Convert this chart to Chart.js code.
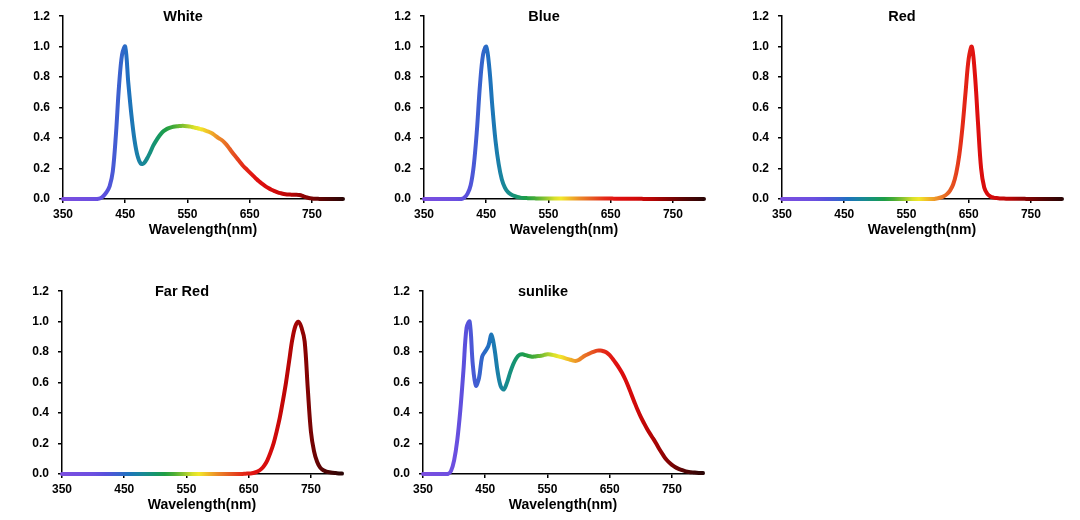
<!DOCTYPE html>
<html>
<head>
<meta charset="utf-8">
<script src="https://cdn.jsdelivr.net/npm/chart.js@4.4.1/dist/chart.umd.min.js"></script>
<style>
  html, body { margin: 0; padding: 0; background: #fff; }
  body { width: 1080px; height: 520px; position: relative; overflow: hidden; }
  canvas { position: absolute; }
</style>
</head>
<body>
<canvas id="white" width="338" height="249" style="left:13px;top:0px"></canvas>
<canvas id="blue" width="338" height="249" style="left:374px;top:0px"></canvas>
<canvas id="red" width="338" height="249" style="left:732px;top:0px"></canvas>
<canvas id="farred" width="338" height="249" style="left:12px;top:275px"></canvas>
<canvas id="sunlike" width="338" height="249" style="left:373px;top:275px"></canvas>
<script>
// wavelength grid (nm) and tick labels
const wavelengths = [
  350, 355, 360, 365, 370, 375, 380, 385, 390, 395,
  400, 405, 410, 415, 420, 425, 430, 435, 440, 445,
  450, 455, 460, 465, 470, 475, 480, 485, 490, 495,
  500, 505, 510, 515, 520, 525, 530, 535, 540, 545,
  550, 555, 560, 565, 570, 575, 580, 585, 590, 595,
  600, 605, 610, 615, 620, 625, 630, 635, 640, 645,
  650, 655, 660, 665, 670, 675, 680, 685, 690, 695,
  700, 705, 710, 715, 720, 725, 730, 735, 740, 745,
  750, 755, 760, 765, 770, 775, 780, 785, 790, 795,
  800,
];
const xTicks = [350, 450, 550, 650, 750];
const yTicks = [0, 0.2, 0.4, 0.6, 0.8, 1.0, 1.2];

// relative intensity, one value per wavelength
const whiteSpectrum = [
  0, 0, 0, 0, 0, 0, 0, 0, 0, 0,
  0, 0, 0.005, 0.02, 0.045, 0.085, 0.18, 0.42, 0.74, 0.95,
  1.0, 0.76, 0.55, 0.385, 0.28, 0.232, 0.235, 0.265, 0.305, 0.35,
  0.385, 0.415, 0.44, 0.455, 0.465, 0.472, 0.476, 0.478, 0.48, 0.48,
  0.478, 0.475, 0.47, 0.466, 0.46, 0.455, 0.447, 0.44, 0.43, 0.415,
  0.4, 0.387, 0.368, 0.345, 0.317, 0.29, 0.265, 0.24, 0.215, 0.195,
  0.175, 0.155, 0.135, 0.116, 0.1, 0.085, 0.072, 0.061, 0.052, 0.044,
  0.038, 0.033, 0.03, 0.029, 0.028, 0.028, 0.026, 0.02, 0.012, 0.007,
  0.004, 0.002, 0.001, 0, 0, 0, 0, 0, 0, 0,
  0,
];
const blueSpectrum = [
  0, 0, 0, 0, 0, 0, 0, 0, 0, 0,
  0, 0, 0, 0.01, 0.035, 0.09, 0.22, 0.45, 0.75, 0.95,
  1.0, 0.86, 0.6, 0.38, 0.23, 0.13, 0.075, 0.045, 0.03, 0.02,
  0.013, 0.009, 0.007, 0.006, 0.005, 0.005, 0.004, 0.004, 0.004, 0.004,
  0.004, 0.004, 0.004, 0.004, 0.004, 0.004, 0.004, 0.004, 0.004, 0.004,
  0.004, 0.004, 0.004, 0.004, 0.004, 0.003, 0.003, 0.003, 0.003, 0.003,
  0.003, 0.002, 0.002, 0.002, 0.002, 0.001, 0.001, 0.001, 0.001, 0.001,
  0.001, 0, 0, 0, 0, 0, 0, 0, 0, 0,
  0, 0, 0, 0, 0, 0, 0, 0, 0, 0,
  0,
];
const redSpectrum = [
  0, 0, 0, 0, 0, 0, 0, 0, 0, 0,
  0, 0, 0, 0, 0, 0, 0, 0, 0, 0,
  0, 0, 0, 0, 0, 0, 0, 0, 0, 0,
  0, 0, 0, 0, 0, 0, 0, 0, 0, 0,
  0, 0, 0, 0, 0, 0, 0, 0, 0, 0,
  0.005, 0.01, 0.018, 0.032, 0.055, 0.095, 0.17, 0.29, 0.47, 0.7,
  0.92, 1.0, 0.82, 0.5, 0.2, 0.075, 0.033, 0.016, 0.009, 0.006,
  0.004, 0.003, 0.002, 0.002, 0.001, 0.001, 0.001, 0.001, 0.001, 0,
  0, 0, 0, 0, 0, 0, 0, 0, 0, 0,
  0,
];
const farRedSpectrum = [
  0, 0, 0, 0, 0, 0, 0, 0, 0, 0,
  0, 0, 0, 0, 0, 0, 0, 0, 0, 0,
  0, 0, 0, 0, 0, 0, 0, 0, 0, 0,
  0, 0, 0, 0, 0, 0, 0, 0, 0, 0,
  0, 0, 0, 0, 0, 0, 0, 0, 0, 0,
  0, 0, 0, 0, 0, 0, 0, 0, 0, 0.002,
  0.003, 0.005, 0.01, 0.018, 0.032, 0.055, 0.09, 0.14, 0.2, 0.28,
  0.37, 0.48, 0.6, 0.74, 0.88, 0.97, 1.0, 0.96, 0.87, 0.56,
  0.28, 0.15, 0.08, 0.042, 0.025, 0.016, 0.011, 0.008, 0.006, 0.004,
  0.003,
];
const sunlikeSpectrum = [
  0, 0, 0, 0, 0, 0, 0, 0, 0, 0.02,
  0.09, 0.22, 0.42, 0.68, 0.96, 1.0, 0.72, 0.58, 0.63, 0.77,
  0.805, 0.84, 0.915, 0.82, 0.67, 0.575, 0.555, 0.6, 0.665, 0.72,
  0.76, 0.782, 0.786, 0.78, 0.775, 0.77, 0.772, 0.775, 0.776, 0.782,
  0.786, 0.785, 0.78, 0.775, 0.77, 0.765, 0.758, 0.752, 0.746, 0.742,
  0.748, 0.762, 0.776, 0.786, 0.796, 0.804, 0.81, 0.81, 0.806, 0.798,
  0.78, 0.755, 0.727, 0.697, 0.663, 0.622, 0.575, 0.522, 0.47, 0.42,
  0.375, 0.335, 0.297, 0.263, 0.232, 0.198, 0.162, 0.13, 0.1, 0.078,
  0.06, 0.046, 0.035, 0.027, 0.02, 0.015, 0.012, 0.01, 0.008, 0.007,
  0.006,
];

// colour of the line along the wavelength axis
const spectrumStops = [
  [350, "#7a4ee0"], [400, "#6c4fe0"], [420, "#5850dc"], [440, "#3b62cf"],
  [455, "#1f70c0"], [470, "#1a80a8"], [485, "#178c8c"], [500, "#15966a"],
  [515, "#1f9e45"], [530, "#4aad35"], [545, "#8cc530"], [560, "#d8e02a"],
  [570, "#f2e82a"], [585, "#f0b828"], [600, "#ec8a28"], [620, "#e65a22"],
  [640, "#e42a18"], [660, "#e01010"], [690, "#d20a0a"], [715, "#b80505"],
  [740, "#8a0303"], [770, "#550404"], [800, "#2a0606"],
];

Chart.defaults.font.family = '"Liberation Sans", Arial, sans-serif';
Chart.defaults.color = "#000";

function spectrumGradient(context) {
  const chart = context.chart;
  if (!chart.chartArea) return "#000";
  const x = chart.scales.x;
  const x0 = x.getPixelForValue(350);
  const x1 = x.getPixelForValue(800);
  const g = chart.ctx.createLinearGradient(x0, 0, x1, 0);
  spectrumStops.forEach(([nm, c]) => g.addColorStop((nm - 350) / 450, c));
  return g;
}

// title sits inside the top of the plot, like the original
const panelTitle = {
  id: "panelTitle",
  afterDraw(chart, args, opts) {
    const { ctx, chartArea } = chart;
    ctx.save();
    ctx.font = 'bold 14.5px "Liberation Sans", Arial, sans-serif';
    ctx.fillStyle = "#000";
    ctx.textAlign = "center";
    ctx.textBaseline = "middle";
    ctx.fillText(opts.text, (chartArea.left + chartArea.right) / 2 - 20, chartArea.top + 1);
    ctx.restore();
  },
};

function makeChart(id, title, values) {
  new Chart(document.getElementById(id), {
    type: "line",
    data: {
      datasets: [
        {
          data: values.map((v, i) => ({ x: wavelengths[i], y: v })),
          borderColor: spectrumGradient,
          borderWidth: 4,
          borderCapStyle: "round",
          borderJoinStyle: "round",
          pointRadius: 0,
          tension: 0.35,
          fill: false,
          clip: 4,
        },
      ],
    },
    options: {
      responsive: false,
      animation: false,
      devicePixelRatio: 1,
      layout: { padding: { top: 15, right: 8, left: 0, bottom: 0 } },
      plugins: {
        legend: { display: false },
        tooltip: { enabled: false },
        panelTitle: { text: title },
      },
      scales: {
        x: {
          type: "linear",
          min: 350,
          max: 800,
          afterBuildTicks: (scale) => {
            scale.ticks = xTicks.map((value) => ({ value }));
          },
          afterFit: (scale) => {
            scale.height = 50;
          },
          grid: {
            display: true,
            drawOnChartArea: false,
            drawTicks: true,
            tickLength: 4,
            color: "#000",
            lineWidth: 1.5,
          },
          border: { display: true, color: "#000", width: 1.5 },
          ticks: {
            font: { size: 12, weight: "bold" },
            padding: 4,
            maxRotation: 0,
            autoSkip: false,
          },
          title: {
            display: true,
            text: "Wavelength(nm)",
            font: { size: 14, weight: "bold" },
            padding: { top: 0, bottom: 10 },
          },
        },
        y: {
          min: 0,
          max: 1.2,
          afterBuildTicks: (scale) => {
            scale.ticks = yTicks.map((value) => ({ value }));
          },
          afterFit: (scale) => {
            scale.width = 50;
          },
          grid: {
            display: true,
            drawOnChartArea: false,
            drawTicks: true,
            tickLength: 4,
            color: "#000",
            lineWidth: 1.5,
          },
          border: { display: true, color: "#000", width: 1.5 },
          ticks: {
            font: { size: 12, weight: "bold" },
            padding: 9,
            callback: (v) => Number(v).toFixed(1),
          },
        },
      },
    },
    plugins: [panelTitle],
  });
}

makeChart("white", "White", whiteSpectrum);
makeChart("blue", "Blue", blueSpectrum);
makeChart("red", "Red", redSpectrum);
makeChart("farred", "Far Red", farRedSpectrum);
makeChart("sunlike", "sunlike", sunlikeSpectrum);
</script>
</body>
</html>
